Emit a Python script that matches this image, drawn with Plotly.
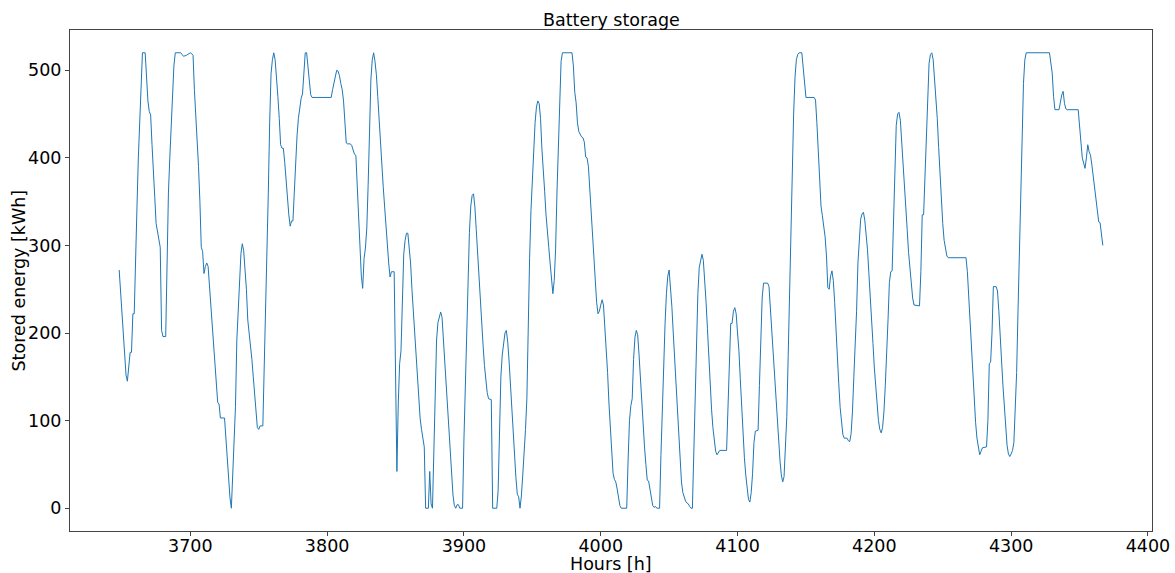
import plotly.graph_objects as go

# Hourly battery state of charge over one month (breakpoints of the series)
hours = [
    3648, 3650, 3652, 3653, 3654, 3655, 3656, 3657, 3658, 3659, 3660, 3661, 3662, 3663, 3664, 3665,
    3667, 3668, 3669, 3670, 3671, 3672, 3673, 3674, 3675, 3676, 3677, 3678, 3679, 3680, 3682, 3683,
    3684, 3685, 3686, 3687, 3688, 3689, 3693, 3694, 3695, 3697, 3699, 3700, 3701, 3702, 3703, 3704,
    3705, 3706, 3707, 3708, 3709, 3710, 3711, 3712, 3713, 3714, 3715, 3716, 3717, 3718, 3719, 3720,
    3721, 3722, 3725, 3726, 3727, 3728, 3729, 3730, 3731, 3732, 3733, 3734, 3735, 3736, 3737, 3738,
    3739, 3740, 3741, 3742, 3743, 3744, 3745, 3746, 3747, 3748, 3749, 3750, 3751, 3753, 3754, 3755,
    3756, 3757, 3758, 3759, 3760, 3761, 3762, 3763, 3764, 3765, 3766, 3767, 3768, 3769, 3770, 3771,
    3772, 3773, 3774, 3775, 3776, 3777, 3778, 3779, 3780, 3781, 3782, 3783, 3784, 3785, 3786, 3787,
    3788, 3789, 3803, 3804, 3805, 3806, 3807, 3808, 3809, 3810, 3811, 3812, 3813, 3814, 3815, 3817,
    3818, 3819, 3820, 3821, 3822, 3823, 3824, 3825, 3826, 3827, 3828, 3829, 3830, 3831, 3832, 3833,
    3834, 3835, 3836, 3837, 3838, 3839, 3840, 3841, 3842, 3843, 3844, 3845, 3846, 3847, 3849, 3850,
    3851, 3852, 3853, 3854, 3855, 3856, 3857, 3858, 3859, 3860, 3861, 3862, 3863, 3864, 3865, 3866,
    3867, 3868, 3869, 3870, 3871, 3872, 3874, 3875, 3876, 3877, 3878, 3879, 3880, 3881, 3882, 3883,
    3884, 3885, 3886, 3887, 3888, 3889, 3890, 3891, 3892, 3893, 3894, 3895, 3896, 3897, 3899, 3900,
    3901, 3902, 3903, 3904, 3905, 3906, 3907, 3908, 3909, 3910, 3911, 3912, 3913, 3914, 3915, 3916,
    3917, 3918, 3920, 3921, 3924, 3925, 3926, 3927, 3928, 3929, 3930, 3931, 3932, 3933, 3934, 3935,
    3936, 3937, 3938, 3939, 3940, 3941, 3942, 3943, 3944, 3945, 3946, 3947, 3948, 3949, 3950, 3951,
    3952, 3953, 3954, 3955, 3956, 3957, 3958, 3959, 3960, 3961, 3962, 3963, 3964, 3965, 3966, 3967,
    3968, 3969, 3970, 3971, 3972, 3979, 3980, 3981, 3982, 3983, 3984, 3985, 3986, 3987, 3988, 3989,
    3990, 3991, 3992, 3993, 3994, 3995, 3996, 3997, 3998, 3999, 4000, 4001, 4002, 4003, 4004, 4005,
    4006, 4007, 4008, 4009, 4010, 4011, 4012, 4013, 4014, 4015, 4019, 4020, 4021, 4022, 4023, 4024,
    4025, 4026, 4027, 4028, 4029, 4030, 4031, 4032, 4033, 4034, 4035, 4036, 4037, 4038, 4039, 4040,
    4041, 4043, 4044, 4045, 4046, 4047, 4048, 4049, 4050, 4051, 4052, 4053, 4054, 4055, 4056, 4057,
    4058, 4059, 4060, 4061, 4062, 4063, 4064, 4065, 4066, 4067, 4068, 4069, 4070, 4071, 4072, 4073,
    4074, 4075, 4076, 4077, 4078, 4079, 4080, 4081, 4082, 4083, 4084, 4085, 4086, 4087, 4092, 4093,
    4094, 4095, 4096, 4097, 4098, 4099, 4100, 4101, 4102, 4103, 4104, 4105, 4106, 4107, 4108, 4109,
    4110, 4111, 4112, 4113, 4115, 4116, 4117, 4118, 4119, 4122, 4123, 4124, 4125, 4126, 4127, 4128,
    4129, 4130, 4131, 4132, 4133, 4134, 4135, 4136, 4137, 4138, 4139, 4140, 4141, 4142, 4143, 4144,
    4145, 4147, 4148, 4149, 4150, 4156, 4157, 4158, 4159, 4160, 4161, 4162, 4163, 4164, 4165, 4166,
    4167, 4168, 4169, 4170, 4171, 4172, 4173, 4174, 4175, 4176, 4177, 4178, 4180, 4181, 4182, 4183,
    4184, 4185, 4186, 4187, 4188, 4189, 4190, 4191, 4192, 4193, 4194, 4195, 4196, 4197, 4198, 4199,
    4200, 4201, 4202, 4203, 4204, 4205, 4206, 4207, 4208, 4209, 4210, 4211, 4212, 4213, 4214, 4215,
    4216, 4217, 4218, 4219, 4220, 4221, 4222, 4223, 4224, 4225, 4226, 4227, 4228, 4229, 4233, 4234,
    4235, 4236, 4237, 4238, 4239, 4240, 4241, 4242, 4243, 4244, 4245, 4246, 4247, 4248, 4249, 4250,
    4251, 4252, 4253, 4254, 4267, 4268, 4269, 4270, 4271, 4272, 4273, 4274, 4275, 4276, 4277, 4278,
    4279, 4282, 4283, 4284, 4285, 4286, 4287, 4289, 4290, 4291, 4292, 4293, 4294, 4295, 4296, 4297,
    4298, 4299, 4300, 4301, 4302, 4303, 4304, 4305, 4306, 4307, 4308, 4309, 4310, 4311, 4328, 4329,
    4330, 4331, 4332, 4335, 4336, 4337, 4338, 4339, 4340, 4341, 4349, 4350, 4351, 4352, 4353, 4354,
    4355, 4356, 4357, 4358, 4359, 4360, 4361, 4362, 4363, 4364, 4365, 4366, 4367,
]

stored_kwh = [
    272, 225, 175, 152, 145, 160, 178, 178, 222, 222, 300, 344, 400, 439, 490, 520,
    520, 489, 465, 453, 449, 415, 390, 355, 325, 315, 305, 298, 203, 196, 196, 306,
    360, 400, 439, 477, 505, 520, 520, 518, 516, 517, 519, 520, 519, 517, 477, 450,
    420, 390, 350, 298, 293, 268, 276, 280, 276, 253, 232, 211, 185, 158, 138, 121,
    119, 103, 103, 78, 55, 32, 12, 0, 40, 80, 116, 192, 230, 260, 291, 302,
    294, 272, 250, 215, 200, 192, 170, 150, 128, 105, 92, 90, 94, 94, 154, 210,
    280, 360, 440, 496, 512, 520, 512, 495, 470, 445, 415, 411, 411, 395, 372, 352,
    335, 322, 328, 328, 365, 400, 425, 445, 458, 468, 473, 504, 520, 520, 505, 490,
    472, 469, 469, 478, 487, 492, 500, 499, 494, 485, 478, 465, 439, 417, 416, 416,
    414, 410, 404, 403, 371, 340, 305, 265, 251, 285, 297, 320, 370, 430, 490, 512,
    520, 510, 495, 470, 442, 417, 390, 367, 345, 320, 298, 280, 264, 270, 270, 120,
    42, 120, 165, 180, 250, 290, 306, 314, 314, 300, 280, 250, 223, 198, 172, 145,
    122, 102, 90, 78, 70, 0, 0, 42, 5, 0, 60, 130, 192, 212, 220, 224,
    218, 192, 165, 140, 115, 90, 60, 38, 15, 3, 0, 4, 4, 0, 0, 78,
    140, 210, 268, 315, 345, 357, 359, 344, 318, 290, 260, 234, 210, 186, 163, 144,
    132, 125, 124, 0, 0, 20, 80, 150, 175, 192, 200, 203, 190, 168, 140, 112,
    88, 60, 35, 16, 13, 0, 14, 38, 60, 90, 125, 215, 285, 340, 380, 415,
    440, 458, 465, 462, 445, 410, 390, 362, 335, 320, 298, 280, 262, 245, 260, 295,
    360, 420, 480, 510, 520, 520, 505, 475, 463, 440, 430, 426, 424, 423, 418, 401,
    400, 390, 365, 340, 305, 280, 258, 235, 222, 225, 232, 238, 232, 210, 188, 155,
    120, 88, 62, 40, 33, 30, 22, 10, 3, 0, 0, 55, 100, 117, 125, 170,
    195, 203, 198, 175, 145, 115, 90, 70, 50, 32, 31, 22, 10, 3, 1, 2,
    0, 0, 60, 120, 170, 210, 245, 265, 272, 255, 230, 200, 173, 140, 108, 80,
    52, 30, 18, 12, 8, 6, 5, 2, 0, 0, 70, 130, 195, 245, 275, 285,
    290, 283, 262, 235, 205, 172, 142, 113, 92, 75, 65, 61, 63, 66, 66, 110,
    160, 211, 211, 225, 229, 222, 200, 180, 148, 115, 82, 58, 38, 21, 10, 7,
    18, 40, 75, 88, 89, 140, 200, 240, 257, 257, 253, 228, 200, 175, 148, 120,
    96, 72, 55, 38, 30, 36, 65, 105, 173, 250, 330, 400, 450, 492, 512, 518,
    520, 520, 500, 480, 469, 469, 466, 440, 413, 380, 345, 334, 322, 310, 288, 252,
    250, 265, 271, 260, 235, 200, 170, 142, 115, 95, 84, 80, 80, 77, 76, 85,
    110, 150, 185, 225, 280, 310, 330, 336, 338, 329, 315, 295, 268, 245, 218, 188,
    160, 140, 118, 100, 90, 86, 92, 110, 140, 173, 215, 258, 270, 271, 335, 400,
    437, 450, 452, 443, 420, 400, 375, 350, 318, 292, 274, 255, 240, 232, 231, 270,
    335, 335, 380, 440, 485, 508, 518, 520, 512, 490, 465, 445, 412, 380, 350, 325,
    306, 295, 288, 286, 286, 270, 240, 205, 175, 145, 118, 98, 80, 68, 61, 65,
    69, 70, 100, 165, 167, 200, 253, 253, 248, 225, 190, 168, 140, 115, 90, 72,
    62, 59, 62, 66, 75, 120, 155, 225, 295, 380, 440, 485, 512, 520, 520, 505,
    497, 470, 455, 455, 465, 472, 476, 462, 456, 455, 455, 440, 418, 400, 392, 388,
    400, 415, 407, 403, 392, 380, 368, 350, 338, 327, 326, 310, 300,
]

x_ticks = [3700, 3800, 3900, 4000, 4100, 4200, 4300, 4400]
y_ticks = [0, 100, 200, 300, 400, 500]

FONT = "DejaVu Sans"
TEXT = "#000000"
SPINE = "#444444"
SIZE = 17.5

fig = go.Figure(
    go.Scatter(
        x=hours,
        y=stored_kwh,
        mode="lines",
        line=dict(color="#1f77b4", width=1),
        hoverinfo="x+y",
    )
)

# Axis limits padded by 5% of the data span on each side
x_pad = 0.05 * (max(hours) - min(hours))
y_pad = 0.05 * (max(stored_kwh) - min(stored_kwh))

axis_common = dict(
    showline=True,
    linecolor=SPINE,
    linewidth=1,
    mirror=True,
    ticks="outside",
    ticklen=4,
    tickwidth=1,
    tickcolor=SPINE,
    showgrid=False,
    zeroline=False,
    automargin=False,
    tickfont=dict(family=FONT, size=SIZE, color=TEXT),
)

label_font = dict(family=FONT, size=SIZE, color=TEXT)

fig.update_layout(
    width=1175,
    height=573,
    margin=dict(l=70, r=23, t=30, b=42),
    paper_bgcolor="white",
    plot_bgcolor="white",
    showlegend=False,
    font=dict(family=FONT, color=TEXT),
    xaxis=dict(
        axis_common,
        range=[min(hours) - x_pad, max(hours) + x_pad],
        tickmode="array",
        tickvals=x_ticks,
        ticklabelstandoff=-5,
    ),
    yaxis=dict(
        axis_common,
        range=[min(stored_kwh) - y_pad, max(stored_kwh) + y_pad],
        tickmode="array",
        tickvals=y_ticks,
    ),
    annotations=[
        dict(
            text="Battery storage",
            xref="paper", yref="paper", x=0.5, y=1,
            xanchor="center", yanchor="middle", yshift=10,
            showarrow=False, font=label_font,
        ),
        dict(
            text="Hours [h]",
            xref="paper", yref="paper", x=0.5, y=0,
            xanchor="center", yanchor="middle", yshift=-33,
            showarrow=False, font=label_font,
        ),
        dict(
            text="Stored energy [kWh]",
            xref="paper", yref="paper", x=0, y=0.5,
            xanchor="center", yanchor="middle", xshift=-52,
            textangle=-90, showarrow=False, font=label_font,
        ),
    ],
)

fig.write_html("out.html")
